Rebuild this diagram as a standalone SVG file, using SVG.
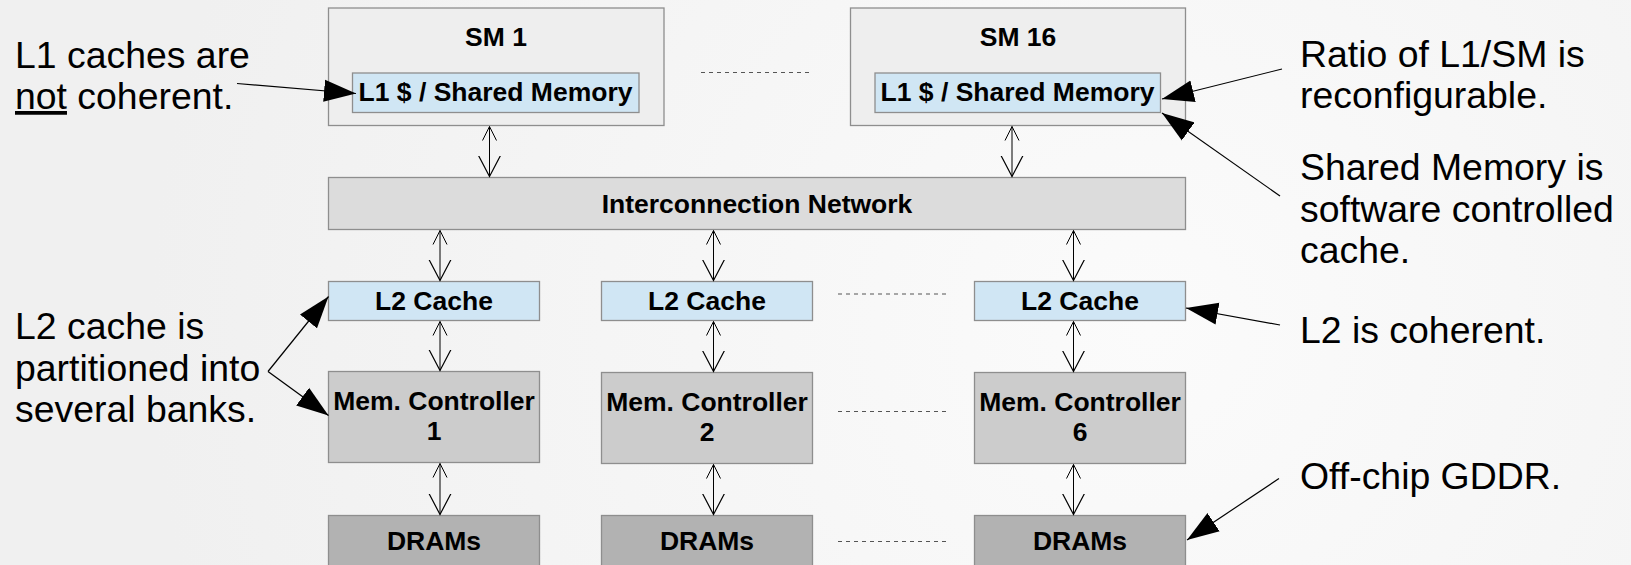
<svg xmlns="http://www.w3.org/2000/svg" width="1631" height="565" viewBox="0 0 1631 565">
  <defs>
    <radialGradient id="bg" cx="1150" cy="330" r="1000" gradientUnits="userSpaceOnUse">
      <stop offset="0" stop-color="#fbfbfb"/>
      <stop offset="1" stop-color="#f0f0f0"/>
    </radialGradient>
    <!-- open V heads for the bidirectional links: small one at the start, larger one at the end -->
    <marker id="vSmall" markerUnits="userSpaceOnUse" markerWidth="20" markerHeight="20" viewBox="0 0 20 20" refX="14" refY="10" orient="auto-start-reverse">
      <path d="M0,3 L14,10 L0,17" fill="none" stroke="#000" stroke-width="1"/>
    </marker>
    <marker id="vBig" markerUnits="userSpaceOnUse" markerWidth="26" markerHeight="26" viewBox="0 0 26 26" refX="21" refY="13" orient="auto">
      <path d="M0,2 L21,13 L0,24" fill="none" stroke="#000" stroke-width="1.2"/>
    </marker>
    <!-- solid head for the callout pointers -->
    <marker id="solid" markerUnits="userSpaceOnUse" markerWidth="33" markerHeight="23" viewBox="0 0 33 23" refX="32" refY="11.5" orient="auto">
      <path d="M0,0.5 L32,11.5 L0,22.5 z" fill="#000"/>
    </marker>
    <style>
      .box { stroke: #8e8e8e; stroke-width: 1.3; }
      .sm { fill: #eeeeee; }
      .l1 { fill: #d0e6f4; }
      .net { fill: #dcdcdc; }
      .mc { fill: #cccccc; }
      .dram { fill: #b2b2b2; }
      .lbl { font-family: "Liberation Sans", Arial, sans-serif; font-weight: bold; font-size: 26.5px; fill: #000; text-anchor: middle; }
      .note { font-family: "Liberation Sans", Arial, sans-serif; font-size: 37.4px; fill: #000; }
      .link { stroke: #000; stroke-width: 1; fill: none; marker-start: url(#vSmall); marker-end: url(#vBig); }
      .call { stroke: #000; stroke-width: 1.2; fill: none; marker-end: url(#solid); }
      .dots { stroke: #555; stroke-width: 1.2; stroke-dasharray: 4 4; fill: none; }
    </style>
  </defs>

  <rect x="0" y="0" width="1631" height="565" fill="url(#bg)"/>

  <!-- streaming multiprocessors -->
  <g id="sm1">
    <rect class="box sm" x="328.5" y="8" width="335.5" height="117.5"/>
    <text class="lbl" x="496" y="45.5">SM 1</text>
    <rect class="box l1" x="352.5" y="73" width="286.5" height="39.5"/>
    <text class="lbl" x="495.5" y="101">L1 $ / Shared Memory</text>
  </g>
  <g id="sm16">
    <rect class="box sm" x="850.5" y="8" width="335" height="117.5"/>
    <text class="lbl" x="1018" y="45.5">SM 16</text>
    <rect class="box l1" x="875" y="73" width="285.5" height="39.5"/>
    <text class="lbl" x="1017.5" y="101">L1 $ / Shared Memory</text>
  </g>

  <g id="interconnect">
    <rect class="box net" x="328.5" y="177.5" width="857" height="52"/>
    <text class="lbl" x="757" y="213">Interconnection Network</text>
  </g>

  <!-- L2 banks -->
  <g id="l2-1">
    <rect class="box l1" x="328.5" y="281.5" width="211" height="39"/>
    <text class="lbl" x="434" y="310">L2 Cache</text>
  </g>
  <g id="l2-2">
    <rect class="box l1" x="601.5" y="281.5" width="211" height="39"/>
    <text class="lbl" x="707" y="310">L2 Cache</text>
  </g>
  <g id="l2-6">
    <rect class="box l1" x="974.5" y="281.5" width="211" height="39"/>
    <text class="lbl" x="1080" y="310">L2 Cache</text>
  </g>

  <!-- memory controllers -->
  <g id="mc-1">
    <rect class="box mc" x="328.5" y="371.5" width="211" height="91"/>
    <text class="lbl" x="434" y="410">Mem. Controller</text>
    <text class="lbl" x="434" y="440">1</text>
  </g>
  <g id="mc-2">
    <rect class="box mc" x="601.5" y="372.5" width="211" height="91"/>
    <text class="lbl" x="707" y="411">Mem. Controller</text>
    <text class="lbl" x="707" y="441">2</text>
  </g>
  <g id="mc-6">
    <rect class="box mc" x="974.5" y="372.5" width="211" height="91"/>
    <text class="lbl" x="1080" y="411">Mem. Controller</text>
    <text class="lbl" x="1080" y="441">6</text>
  </g>

  <!-- DRAM banks -->
  <g id="dram-1">
    <rect class="box dram" x="328.5" y="515.5" width="211" height="70"/>
    <text class="lbl" x="434" y="550">DRAMs</text>
  </g>
  <g id="dram-2">
    <rect class="box dram" x="601.5" y="515.5" width="211" height="70"/>
    <text class="lbl" x="707" y="550">DRAMs</text>
  </g>
  <g id="dram-6">
    <rect class="box dram" x="974.5" y="515.5" width="211" height="70"/>
    <text class="lbl" x="1080" y="550">DRAMs</text>
  </g>

  <!-- links and ellipsis lines -->
  <g id="connectors">
    <path class="link" d="M489.5,126.5 V176.5"/>
    <path class="link" d="M1012,126.5 V176.5"/>

    <path class="link" d="M440,230.5 V280.5"/>
    <path class="link" d="M713.5,230.5 V280.5"/>
    <path class="link" d="M1073.5,230.5 V280.5"/>

    <path class="link" d="M440,321.5 V370.5"/>
    <path class="link" d="M713.5,321.5 V371.5"/>
    <path class="link" d="M1073.5,321.5 V371.5"/>

    <path class="link" d="M440,463.5 V514.5"/>
    <path class="link" d="M713.5,464.5 V514.5"/>
    <path class="link" d="M1073.5,464.5 V514.5"/>

    <path class="dots" d="M701,72.5 H809"/>
    <path class="dots" d="M838,294 H946"/>
    <path class="dots" d="M838,411.5 H946"/>
    <path class="dots" d="M838,541.5 H946"/>

    <path class="call" d="M237,83.5 L356,93.5"/>
    <path class="call" d="M1282,69 L1162,99"/>
    <path class="call" d="M1280,196 L1162,113"/>
    <path class="call" d="M1280,325 L1186,308"/>
    <path class="call" d="M1279,478.5 L1187,540"/>
    <path class="call" d="M268,371.5 L328.5,296.5"/>
    <path class="call" d="M268,371.5 L328.5,415.5"/>
  </g>

  <!-- annotations -->
  <g id="notes">
    <text class="note" x="15" y="67.5">L1 caches are</text>
    <text class="note" x="15" y="109"><tspan text-decoration="underline">not</tspan> coherent.</text>

    <text class="note" x="15" y="339">L2 cache is</text>
    <text class="note" x="15" y="380.5">partitioned into</text>
    <text class="note" x="15" y="422">several banks.</text>

    <text class="note" x="1300" y="66.5">Ratio of L1/SM is</text>
    <text class="note" x="1300" y="108">reconfigurable.</text>

    <text class="note" x="1300" y="180">Shared Memory is</text>
    <text class="note" x="1300" y="221.5">software controlled</text>
    <text class="note" x="1300" y="263">cache.</text>

    <text class="note" x="1300" y="343">L2 is coherent.</text>
    <text class="note" x="1300" y="489">Off-chip GDDR.</text>
  </g>
</svg>
